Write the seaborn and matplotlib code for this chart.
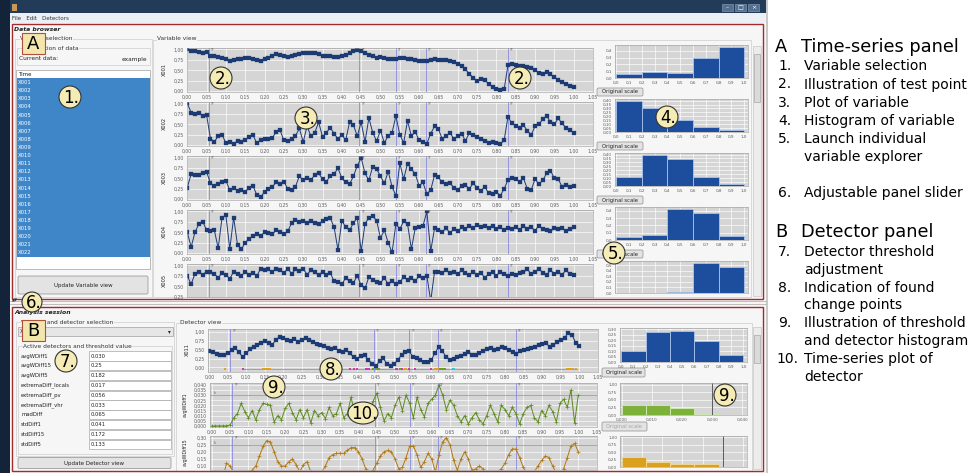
import numpy as np
import pandas as pd
import matplotlib
matplotlib.use("Agg")
import matplotlib.pyplot as plt
import seaborn as sns
from matplotlib.patches import Rectangle, Ellipse, FancyBboxPatch
from matplotlib.ticker import FuncFormatter

# ---------------- data ----------------
time = np.round(np.arange(101) * 0.01, 2)   # evenly sampled time axis 0..1

x001 = [1.00, 0.97, 0.95, 0.93, 0.92, 0.94, 0.85, 0.84, 0.82, 0.80,
        0.77, 0.73, 0.75, 0.77, 0.78, 0.80, 0.79, 0.78, 0.74, 0.72,
        0.76, 0.79, 0.83, 0.88, 0.86, 0.84, 0.82, 0.84, 0.87, 0.89,
        0.90, 0.91, 0.92, 0.90, 0.88, 0.85, 0.84, 0.83, 0.82, 0.82,
        0.83, 0.86, 0.90, 0.96, 0.99, 0.95, 0.90, 0.86, 0.83, 0.80,
        0.82, 0.79, 0.77, 0.76, 0.78, 0.80, 0.79, 0.78, 0.76, 0.74,
        0.73, 0.72, 0.72, 0.74, 0.76, 0.75, 0.75, 0.74, 0.72, 0.70,
        0.66, 0.60, 0.52, 0.42, 0.32, 0.25, 0.30, 0.26, 0.18, 0.10,
        0.06, 0.04, 0.05, 0.62, 0.65, 0.63, 0.61, 0.60, 0.58, 0.56,
        0.50, 0.44, 0.42, 0.45, 0.40, 0.34, 0.28, 0.22, 0.17, 0.12,
        0.10]
x002 = [1.00, 0.78, 0.74, 0.78, 0.70, 0.72, 0.16, 0.08, 0.22, 0.25,
        0.05, 0.08, 0.04, 0.10, 0.08, 0.13, 0.20, 0.24, 0.05, 0.12,
        0.16, 0.14, 0.17, 0.32, 0.36, 0.12, 0.10, 0.15, 0.22, 0.40,
        0.08, 0.45, 0.22, 0.30, 0.55, 0.20, 0.30, 0.42, 0.28, 0.15,
        0.25, 0.12, 0.55, 0.48, 0.22, 0.55, 0.08, 0.65, 0.30, 0.10,
        0.35, 0.06, 0.22, 0.30, 0.70, 0.25, 0.06, 0.58, 0.22, 0.32,
        0.12, 0.08, 0.04, 0.28, 0.45, 0.38, 0.15, 0.22, 0.30, 0.15,
        0.22, 0.28, 0.10, 0.30, 0.25, 0.20, 0.14, 0.10, 0.06, 0.08,
        0.05, 0.02, 0.12, 0.68, 0.52, 0.46, 0.40, 0.48, 0.35, 0.25,
        0.45, 0.50, 0.62, 0.70, 0.55, 0.50, 0.64, 0.52, 0.42, 0.36,
        0.30]
x003 = [0.28, 0.60, 0.57, 0.58, 0.62, 0.65, 0.38, 0.32, 0.36, 0.42,
        0.44, 0.22, 0.28, 0.20, 0.22, 0.18, 0.28, 0.32, 0.10, 0.05,
        0.18, 0.24, 0.30, 0.40, 0.36, 0.42, 0.25, 0.22, 0.30, 0.55,
        0.45, 0.50, 0.46, 0.58, 0.62, 0.48, 0.42, 0.56, 0.60, 0.74,
        0.50, 0.40, 0.36, 0.55, 0.80, 0.98, 0.62, 0.45, 0.78, 0.72,
        0.55, 0.38, 0.66, 0.30, 0.08, 0.86, 0.48, 0.85, 0.72, 0.60,
        0.32, 0.40, 0.12, 0.22, 0.58, 0.52, 0.40, 0.36, 0.38, 0.28,
        0.22, 0.32, 0.34, 0.25, 0.38, 0.28, 0.20, 0.30, 0.14, 0.12,
        0.18, 0.08, 0.25, 0.46, 0.50, 0.48, 0.42, 0.50, 0.25, 0.22,
        0.48, 0.36, 0.45, 0.62, 0.68, 0.50, 0.48, 0.30, 0.34, 0.30,
        0.31]
x004 = [0.50, 0.15, 0.50, 0.70, 0.75, 0.55, 0.52, 0.55, 0.12, 0.85,
        0.90, 0.10, 0.85, 0.20, 0.10, 0.25, 0.35, 0.40, 0.45, 0.42,
        0.50, 0.48, 0.45, 0.55, 0.50, 0.45, 0.52, 0.72, 0.80, 0.75,
        0.78, 0.72, 0.76, 0.72, 0.70, 0.76, 0.82, 0.84, 0.62, 0.08,
        0.78, 0.62, 0.55, 0.72, 0.85, 0.05, 0.70, 0.85, 0.88, 0.78,
        0.36, 0.55, 0.25, 0.02, 0.70, 0.58, 0.76, 0.70, 0.10, 0.60,
        0.62, 0.65, 1.00, 0.05, 0.60, 0.55, 0.50, 0.60, 0.48, 0.58,
        0.52, 0.62, 0.58, 0.65, 0.60, 0.68, 0.62, 0.65, 0.60, 0.66,
        0.58, 0.62, 0.55, 0.60, 0.58, 0.62, 0.55, 0.66, 0.58, 0.62,
        0.54, 0.66, 0.58, 0.56, 0.52, 0.60, 0.58, 0.60, 0.54, 0.58,
        0.62]
x005 = [0.75, 0.55, 0.80, 0.84, 0.78, 0.85, 0.85, 0.80, 0.70, 0.82,
        0.78, 0.68, 0.85, 0.80, 0.75, 0.85, 0.78, 0.82, 0.75, 0.92,
        0.88, 0.90, 0.84, 0.92, 0.88, 0.82, 0.92, 0.80, 0.90, 0.86,
        0.92, 0.78, 0.88, 0.84, 0.76, 0.85, 0.78, 0.82, 0.62, 0.60,
        0.55, 0.70, 0.62, 0.58, 0.75, 0.52, 0.45, 0.72, 0.65, 0.60,
        0.58, 0.70, 0.55, 0.62, 0.55, 0.60, 0.72, 0.65, 0.70, 0.62,
        0.75, 0.70, 0.75, 0.15, 0.85, 0.85, 0.82, 0.88, 0.82, 0.85,
        0.80, 0.88, 0.82, 0.78, 0.84, 0.78, 0.82, 0.70, 0.80, 0.84,
        0.75, 0.85, 0.80, 0.75, 0.80, 0.78, 0.82, 0.84, 0.90, 0.80,
        0.85, 0.92, 0.82, 0.78, 0.88, 0.80, 0.84, 0.78, 0.88, 0.80,
        0.76]
x011 = [0.46, 0.42, 0.38, 0.36, 0.35, 0.40, 0.48, 0.55, 0.42, 0.30,
        0.40, 0.52, 0.58, 0.62, 0.70, 0.75, 0.68, 0.64, 0.78, 0.86,
        0.84, 0.78, 0.74, 0.80, 0.72, 0.78, 0.83, 0.78, 0.72, 0.66,
        0.62, 0.60, 0.56, 0.52, 0.55, 0.46, 0.42, 0.48, 0.40, 0.28,
        0.25, 0.32, 0.34, 0.22, 0.10, 0.03, 0.18, 0.26, 0.10, 0.05,
        0.10, 0.22, 0.36, 0.42, 0.46, 0.30, 0.26, 0.20, 0.14, 0.16,
        0.22, 0.40, 0.58, 0.45, 0.30, 0.22, 0.25, 0.28, 0.32, 0.38,
        0.44, 0.36, 0.34, 0.40, 0.46, 0.52, 0.56, 0.48, 0.52, 0.58,
        0.55, 0.48, 0.42, 0.38, 0.45, 0.48, 0.52, 0.55, 0.58, 0.62,
        0.66, 0.68, 0.58, 0.62, 0.72, 0.76, 0.82, 0.98, 0.92, 0.70,
        0.60]
avg_wdiff1 = [0.000, 0.000, 0.000, 0.000, 0.000, 0.001, 0.008, 0.012, 0.022, 0.014,
              0.008, 0.015, 0.006, 0.016, 0.022, 0.021, 0.020, 0.004, 0.010, 0.006,
              0.017, 0.022, 0.013, 0.006, 0.016, 0.008, 0.016, 0.003, 0.015, 0.010,
              0.013, 0.007, 0.018, 0.010, 0.012, 0.022, 0.008, 0.012, 0.028, 0.012,
              0.018, 0.005, 0.010, 0.016, 0.024, 0.032, 0.018, 0.005, 0.012, 0.008,
              0.020, 0.028, 0.015, 0.030, 0.022, 0.008, 0.028, 0.016, 0.009, 0.022,
              0.026, 0.030, 0.040, 0.030, 0.016, 0.025, 0.020, 0.010, 0.004, 0.010,
              0.002, 0.008, 0.013, 0.006, 0.002, 0.010, 0.020, 0.012, 0.004, 0.020,
              0.016, 0.010, 0.018, 0.012, 0.002, 0.012, 0.018, 0.020, 0.008, 0.004,
              0.015, 0.010, 0.020, 0.014, 0.004, 0.022, 0.026, 0.018, 0.035, 0.003,
              0.030]
avg_wdiff15 = [0.00, 0.00, 0.00, 0.01, 0.12, 0.10, 0.05, 0.02, 0.01, 0.02,
               0.04, 0.07, 0.10, 0.17, 0.24, 0.28, 0.27, 0.20, 0.13, 0.10,
               0.10, 0.13, 0.15, 0.11, 0.06, 0.11, 0.13, 0.06, 0.03, 0.04,
               0.06, 0.10, 0.16, 0.18, 0.19, 0.19, 0.19, 0.21, 0.23, 0.23,
               0.20, 0.15, 0.08, 0.04, 0.07, 0.12, 0.17, 0.20, 0.21, 0.20,
               0.15, 0.08, 0.09, 0.16, 0.24, 0.24, 0.18, 0.09, 0.13, 0.19,
               0.15, 0.06, 0.18, 0.27, 0.30, 0.25, 0.14, 0.07, 0.15, 0.20,
               0.15, 0.07, 0.08, 0.10, 0.08, 0.05, 0.04, 0.05, 0.06, 0.08,
               0.12, 0.18, 0.22, 0.22, 0.16, 0.09, 0.05, 0.04, 0.06, 0.10,
               0.14, 0.17, 0.16, 0.10, 0.05, 0.04, 0.08, 0.16, 0.24, 0.26,
               0.20]

test_points = [0.056, 0.445, 0.540, 0.617, 0.829]

var_names = ["X001", "X002", "X003", "X004", "X005"]
var_bins = [0.0, 0.2, 0.4, 0.6, 0.8, 1.0]
var_hists = [[0.065, 0.09, 0.075, 0.30, 0.45],
             [0.40, 0.31, 0.15, 0.07, 0.02],
             [0.12, 0.40, 0.34, 0.11, 0.02],
             [0.04, 0.07, 0.42, 0.37, 0.06],
             [0.005, 0.0, 0.02, 0.55, 0.48]]

hist_x011 = [0.10, 0.27, 0.28, 0.19, 0.06]
bins_wdiff1 = [0.0, 0.008, 0.016, 0.024, 0.032, 0.040]
hist_wdiff1 = [0.33, 0.33, 0.235, 0.035, 0.01]
bins_wdiff15 = [0.0, 0.06, 0.12, 0.18, 0.24, 0.30]
hist_wdiff15 = [0.33, 0.17, 0.09, 0.10, 0.015]

detector_names = ["avgWDiff1", "avgWDiff15", "avgWDiff5", "extremaDiff_locals",
                  "extremaDiff_pv", "extremaDiff_vhr", "madDiff", "stdDiff1",
                  "stdDiff15", "stdDiff5"]
detector_thresholds = ["0.030", "0.25", "0.182", "0.017", "0.056", "0.033",
                       "0.065", "0.041", "0.172", "0.133"]

cp_orange = [0.042, 0.146, 0.150, 0.155, 0.160, 0.164, 0.530, 0.610, 0.615,
             0.620, 0.966, 0.972, 0.978, 0.984, 0.990]
cp_magenta = [0.090, 0.380, 0.390, 0.400, 0.425, 0.432, 0.506, 0.520, 0.540,
              0.556, 0.600]
cp_green = [0.443, 0.450, 0.457, 0.515, 0.625, 0.632, 0.638]
cp_cyan = [0.660]

var_items = ["Variable selection", "Illustration of test point", "Plot of variable",
             "Histogram of variable", "Launch individual\nvariable explorer", None,
             "Adjustable panel slider"]
det_items = ["Detector threshold\nadjustment", "Indication of found\nchange points",
             "Illustration of threshold\nand detector histogram",
             "Time-series plot of\ndetector"]

# ---------------- styling ----------------
BLUE = "#1c3a74"
GREEN = "#5d8c1e"
ORANGE = "#b07812"
PLOT_BG = "#d5d5d5"
TP_COLOR = "#8a8ae0"
RED = "#a52a2a"
W, H = 976, 473

sns.set_theme(style="white")
plt.rcParams["font.family"] = ["DejaVu Sans"]

fig = plt.figure(figsize=(9.76, 4.73), dpi=100)


def px_axes(x, y, w, h, z=2):
    return fig.add_axes([x / W, 1 - (y + h) / H, w / W, h / H], zorder=z)


def comma(dec):
    return FuncFormatter(lambda v, p: f"{v:.{dec}f}".replace(".", ","))


def style_plot(ax, xticks, yticks, xdec, ydec, show_x=True, size=3.3):
    ax.set_facecolor(PLOT_BG)
    ax.set_xticks(xticks)
    ax.set_yticks(yticks)
    ax.xaxis.set_major_formatter(comma(xdec))
    ax.yaxis.set_major_formatter(comma(ydec))
    ax.grid(True, color="white", lw=0.45)
    ax.set_axisbelow(True)
    ax.tick_params(labelsize=size, colors="#5e5e5e", length=1.0, width=0.3,
                   pad=1.0, labelbottom=show_x)
    for s in ax.spines.values():
        s.set_color("#9a9a9a")
        s.set_linewidth(0.4)
    ax.set_xlabel("")
    ax.set_ylabel("")


bg = px_axes(0, 0, W, H, z=0)
bg.set_xlim(0, W)
bg.set_ylim(H, 0)
bg.axis("off")

top = px_axes(0, 0, W, H, z=10)
top.set_xlim(0, W)
top.set_ylim(H, 0)
top.axis("off")
top.patch.set_alpha(0)


def rect(x, y, w, h, fc="none", ec="none", lw=0.5, z=1, ax=None):
    (ax or bg).add_patch(Rectangle((x, y), w, h, facecolor=fc, edgecolor=ec,
                                   linewidth=lw, zorder=z))


def text(x, y, s, size=4.3, color="#222222", ax=None, **kw):
    kw.setdefault("va", "center")
    (ax or bg).text(x, y, s, fontsize=size, color=color, **kw)


def button(x, y, w, h, label, color="#222222", size=4.0):
    bg.add_patch(FancyBboxPatch((x, y), w, h, boxstyle="round,pad=0,rounding_size=1.5",
                                facecolor="#e3e3e3", edgecolor="#8e8e8e", linewidth=0.5, zorder=2))
    text(x + w / 2, y + h / 2, label, size=size, color=color, ha="center", zorder=3)


def group(x, y, w, h, label=None):
    rect(x, y, w, h, ec="#cdcdcd", lw=0.5, z=1)
    if label:
        text(x + 5, y, label, size=4.2, color="#333333", zorder=2,
             bbox=dict(facecolor="#f6f6f6", edgecolor="none", pad=0.3))


def series(ax, vals, color, marker, ms, mew):
    sns.lineplot(x=time, y=vals, ax=ax, color=color, marker=marker, markersize=ms,
                 markeredgewidth=mew, markeredgecolor=color, linewidth=0.7)


# ---------------- window chrome ----------------
rect(0, 0, 10, H, fc="#13233a", z=0)
rect(10, 0, 756, 13, fc="#223b58", z=0)
rect(12, 4, 5, 7, fc="#c99a55", z=1)
for i, g in enumerate(["\u2013", "\u25a1", "\u00d7"]):
    rect(722 + i * 13, 4, 11, 7, fc="#55708f", ec="#8ea3bb", lw=0.4, z=1)
    text(727.5 + i * 13, 7.5, g, size=4.5, color="white", ha="center", zorder=2)
rect(10, 13, 756, 10, fc="#ebf0f6", z=0)
text(12, 18, "File   Edit   Detectors", size=4.0, color="#333333")
rect(10, 23, 756, H - 23, fc="#f6f6f6", z=0)
rect(766, 0, 2, H, fc="#c9c9c9", z=0)

# panel A
rect(11.7, 24, 751.3, 275.3, ec=RED, lw=1.0, z=3)
text(14, 29.5, "Data browser", size=4.4, weight="bold", style="italic")
group(15, 39, 137, 258, "Variable selection")
group(17, 48, 133, 17, "Information of data")
text(19, 59, "Current data:", size=4.2)
text(147, 59, "example", size=4.2, ha="right")
rect(16, 70, 134, 199, fc="white", ec="#a0a0a0", lw=0.5, z=1)
rect(16.5, 78.5, 133, 178.5, fc="#3f86c8", z=2)
text(18, 74.5, "Time", size=4.0, zorder=3)
row_h = 178.5 / 22
for i in range(22):
    text(18, 78.5 + row_h * (i + 0.5), f"X{i + 1:03d}", size=3.8, color="white", zorder=3)
button(18, 276, 130, 18, "Update Variable view")
group(153, 40, 598, 257)
text(157, 39, "Variable view", size=4.2, color="#333333", zorder=2,
     bbox=dict(facecolor="#f6f6f6", edgecolor="none", pad=0.3))

# variable time series + histograms
a_tops = [47.6, 101.6, 155.6, 209.6, 263.6]
var_series = [x001, x002, x003, x004, x005]
for i, (name, vals) in enumerate(zip(var_names, var_series)):
    y0 = a_tops[i]
    h = 44.5 if i < 4 else 297 - y0
    ax = px_axes(186.5, y0, 406.5, h)
    series(ax, vals, BLUE, "s", 2.3, 0.2)
    for tp in test_points:
        ax.axvline(tp, color=TP_COLOR, lw=0.6, zorder=1)
        ax.text(tp + 0.004, 1.035, "TP", fontsize=2.2, color="#777777", va="top")
    style_plot(ax, np.arange(0, 1.051, 0.05), [0, 0.25, 0.5, 0.75, 1.0], 2, 2, show_x=i < 4)
    ax.set_xlim(-0.002, 1.05)
    ax.set_ylim(-0.02 if i < 4 else 0.245, 1.04)
    text(164, y0 + min(h, 44.5) / 2, name, size=3.6, rotation=90, ha="center")

    hx = px_axes(615, y0 - 2.6, 133, 33 if i < 4 else 32)
    sns.histplot(x=[(a + b) / 2 for a, b in zip(var_bins[:-1], var_bins[1:])],
                 weights=var_hists[i], bins=var_bins, ax=hx, color="#1d4e9e",
                 edgecolor="#a8c3ea", linewidth=0.6, alpha=1)
    ymax = [0.485, 0.42, 0.42, 0.45, 0.58][i]
    ystep = [0.1, 0.05, 0.05, 0.1, 0.1][i]
    style_plot(hx, np.arange(0, 1.01, 0.1), np.arange(0, ymax, ystep), 1,
               1 if ystep == 0.1 else 2, show_x=i < 4, size=3.0)
    hx.set_xlim(-0.01, 1.03)
    hx.set_ylim(0, ymax)
    if i < 4:
        button(597, y0 + 40.4, 46, 8, "Original scale", size=3.8)

rect(753, 46, 8, 250, fc="#ececec", ec="#bdbdbd", lw=0.4, z=1)
rect(754, 54, 6, 48, fc="#dadada", ec="#9a9a9a", lw=0.4, z=2)

# slider between panels
bg.plot([10, 766], [301.2, 301.2], color="#b5b5b5", lw=0.6, zorder=2)
bg.plot([10, 766], [303.6, 303.6], color="#b5b5b5", lw=0.6, zorder=2)
text(12, 300.5, "\u25b2\u25bc", size=2.8, color="#333333", zorder=3)

# panel B
rect(11.7, 307.3, 751.3, 164, ec=RED, lw=1.0, z=3)
text(14, 312, "Analysis session", size=4.4, weight="bold", style="italic")
group(16, 322, 158, 134, "Variable and detector selection")
rect(17.5, 327, 155, 9, fc="#e6e6e6", ec="#a0a0a0", lw=0.5, z=2)
text(20, 331.5, "X011", size=4.0, zorder=3)
text(168, 331.5, "\u25be", size=4.0, zorder=3)
group(18, 346, 154, 108, "Active detectors and threshold value")
for i, (nm, th) in enumerate(zip(detector_names, detector_thresholds)):
    yc = 356 + 9.8 * i
    text(21, yc, nm, size=3.8, zorder=3)
    rect(89, yc - 4.6, 82, 9.2, fc="white", ec="#a8a8a8", lw=0.5, z=2)
    text(91, yc, th, size=3.8, zorder=3)
button(18, 457.5, 153, 11, "Update Detector view")
group(176, 322.5, 576, 148)
text(180, 322, "Detector view", size=4.2, color="#333333", zorder=2,
     bbox=dict(facecolor="#f6f6f6", edgecolor="none", pad=0.3))

# detector view: X011 with found change points
ax = px_axes(207.5, 329, 390.3, 42.7)
series(ax, x011, BLUE, "s", 2.3, 0.2)
ax.plot([0.09, 0.995], [-0.05, -0.05], color="#d45bb0", lw=0.5, zorder=2)
ax.plot([0.146, 0.30], [-0.05, -0.05], color="#c9a25a", lw=0.5, zorder=2)
cp = pd.DataFrame({
    "t": cp_orange + cp_magenta + cp_green + cp_cyan,
    "det": ["a"] * len(cp_orange) + ["b"] * len(cp_magenta)
           + ["c"] * len(cp_green) + ["d"] * len(cp_cyan),
})
cp["y"] = -0.05
sns.scatterplot(data=cp, x="t", y="y", hue="det", ax=ax, marker="s", s=2.5,
                linewidth=0, legend=False, zorder=3,
                palette={"a": "#e0a020", "b": "#d03aa8", "c": "#6d9a28", "d": "#30c8d8"})
for tp in test_points:
    ax.axvline(tp, color=TP_COLOR, lw=0.6, zorder=1)
    ax.text(tp + 0.004, 1.07, "TP", fontsize=2.2, color="#777777", va="top")
style_plot(ax, np.arange(0, 1.051, 0.05), [0, 0.25, 0.5, 0.75, 1.0], 2, 2)
ax.set_xlim(-0.005, 1.05)
ax.set_ylim(-0.12, 1.08)
text(187, 350, "X011", size=3.6, rotation=90, ha="center")

ax = px_axes(210, 382.7, 386.6, 44)
series(ax, avg_wdiff1, GREEN, "+", 2.8, 0.5)
ax.axhline(0.030, color="#8a8a8a", lw=0.5, zorder=1)
ax.text(0.005, 0.0303, "th", fontsize=2.2, color="#666666", va="bottom")
for tp in test_points:
    ax.axvline(tp, color=TP_COLOR, lw=0.6, zorder=1)
    ax.text(tp + 0.004, 0.042, "TP", fontsize=2.2, color="#777777", va="top")
style_plot(ax, np.arange(0, 1.051, 0.05), np.arange(0, 0.0401, 0.005), 2, 3)
ax.set_xlim(-0.005, 1.05)
ax.set_ylim(-0.0008, 0.0422)
text(185, 405, "avgWDiff1", size=3.4, rotation=90, ha="center")

ax = px_axes(210, 436, 386.6, 34)
series(ax, avg_wdiff15, ORANGE, "+", 2.8, 0.5)
ax.axhline(0.25, color="#8a8a8a", lw=0.5, zorder=1)
ax.text(0.005, 0.252, "th", fontsize=2.2, color="#666666", va="bottom")
for tp in test_points:
    ax.axvline(tp, color=TP_COLOR, lw=0.6, zorder=1)
    ax.text(tp + 0.004, 0.31, "TP", fontsize=2.2, color="#777777", va="top")
style_plot(ax, np.arange(0, 1.051, 0.05), np.arange(0.10, 0.301, 0.05), 2, 2, show_x=False)
ax.set_xlim(-0.005, 1.05)
ax.set_ylim(0.072, 0.312)
text(185, 452, "avgWDiff15", size=3.4, rotation=90, ha="center")

# detector histograms
hx = px_axes(620, 328, 127, 34)
sns.histplot(x=[0.1, 0.3, 0.5, 0.7, 0.9], weights=hist_x011, bins=var_bins, ax=hx,
             color="#1d4e9e", edgecolor="#a8c3ea", linewidth=0.6, alpha=1)
style_plot(hx, np.arange(0, 1.01, 0.1), np.arange(0, 0.301, 0.05), 1, 2, size=3.0)
hx.set_xlim(-0.01, 1.03)
hx.set_ylim(0, 0.31)
button(602, 368, 43, 9, "Original scale", size=3.8)

hx = px_axes(620, 383, 127, 32)
sns.histplot(x=[(a + b) / 2 for a, b in zip(bins_wdiff1[:-1], bins_wdiff1[1:])],
             weights=hist_wdiff1, bins=bins_wdiff1, ax=hx, color="#7db23a",
             edgecolor="#d6ecb8", linewidth=0.6, alpha=1)
hx.axvline(0.030, color="#444444", lw=0.6)
style_plot(hx, np.arange(0, 0.0401, 0.01), [0, 0.25, 0.5, 0.75, 1.0], 3, 2, size=3.0)
hx.set_xlim(-0.0005, 0.0415)
hx.set_ylim(0, 1.05)
button(602, 422, 45, 9, "Original scale", color="#a5a5a5", size=3.8)

hx = px_axes(620, 436, 127, 31)
sns.histplot(x=[(a + b) / 2 for a, b in zip(bins_wdiff15[:-1], bins_wdiff15[1:])],
             weights=hist_wdiff15, bins=bins_wdiff15, ax=hx, color="#d9a11e",
             edgecolor="#f3dc9c", linewidth=0.6, alpha=1)
hx.axvline(0.25, color="#444444", lw=0.6)
style_plot(hx, np.arange(0, 0.301, 0.05), [0, 0.25, 0.5, 0.75, 1.0], 2, 2, show_x=False, size=3.0)
hx.set_xlim(-0.004, 0.31)
hx.set_ylim(0, 1.05)

rect(753, 327, 8, 142, fc="#ececec", ec="#bdbdbd", lw=0.4, z=1)
rect(754, 335, 6, 28, fc="#dadada", ec="#9a9a9a", lw=0.4, z=2)

# ---------------- numbered call-outs ----------------
for letter, x, y in [("A", 21.5, 33), ("B", 21.5, 320)]:
    rect(x, y, 23.5, 21, fc="#f3e6ac", ec="#b0503a", lw=0.8, z=5, ax=top)
    text(x + 11.75, y + 11, letter, size=13, color="black", ha="center", ax=top, zorder=6)

callouts = [("1.", 70, 97, 22), ("2.", 221, 78, 22), ("2.", 520, 78, 22),
            ("3.", 306, 118, 22), ("4.", 667, 117, 22), ("5.", 614, 253, 22),
            ("6.", 32, 302, 20), ("7.", 66, 361, 22), ("8.", 331, 369, 22),
            ("9.", 274, 387, 22), ("9.", 725, 395, 22), ("10.", 363, 413, 30)]
for lab, cx, cy, d in callouts:
    top.add_patch(Ellipse((cx, cy), d, 22 if d > 20 else 20, facecolor="#f4ecb4",
                          edgecolor="#333333", linewidth=0.8, zorder=5))
    text(cx + 1.5, cy + 0.5, lab, size=12, color="black", ha="center", ax=top, zorder=6)

# ---------------- legend text on the right ----------------
text(775, 46.5, "A", size=12.8, color="black")
text(801, 46.5, "Time-series panel", size=12.8, color="black")
line = 0
num = 1
for item in var_items:
    if item is None:
        line += 1
        continue
    for k, part in enumerate(item.split("\n")):
        y = 66.5 + 18 * line
        if k == 0:
            text(778, y, f"{num}.", size=10, color="black")
        text(804, y, part, size=10, color="black")
        line += 1
    num += 1

text(775, 231.7, "B", size=12.8, color="black")
text(801, 231.7, "Detector panel", size=12.8, color="black")
line = 0
for item in det_items:
    for k, part in enumerate(item.split("\n")):
        y = 251.7 + 17.9 * line
        if k == 0:
            text(776 if num >= 10 else 778, y, f"{num}.", size=10, color="black")
        text(804, y, part, size=10, color="black")
        line += 1
    num += 1

fig.savefig("out.png", dpi=100)
